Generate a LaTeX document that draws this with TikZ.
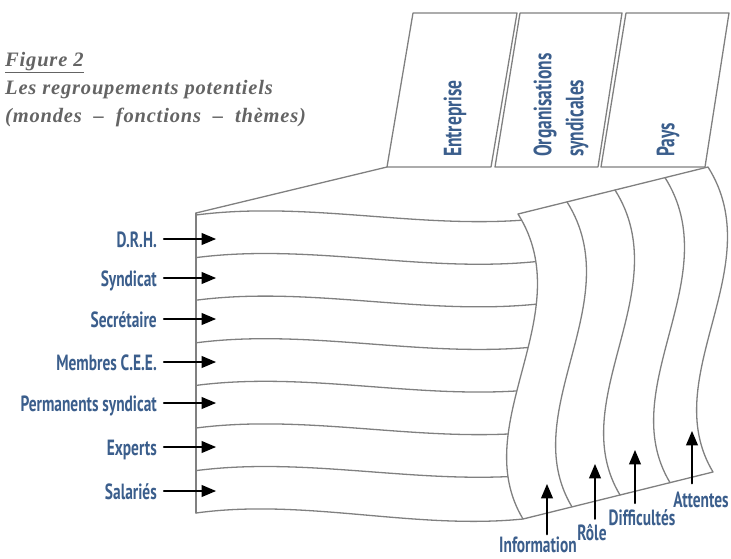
\documentclass[tikz,border=0pt]{standalone}
\usepackage{fontspec}
\newfontfamily\etiq[FakeStretch=0.7]{PT Sans Bold}
\newfontfamily\titrefont[LetterSpace=4]{Liberation Serif}
\usetikzlibrary{arrows}
\usetikzlibrary{positioning}
\definecolor{bleuetiq}{RGB}{59,94,140}
\definecolor{grisbord}{RGB}{128,128,128}
\definecolor{gristitre}{RGB}{100,100,100}

\begin{document}
\begin{tikzpicture}[line cap=round,line join=round,>=triangle 45,x=1pt,y=-1pt,
  bord/.style={draw=grisbord,line width=1.3pt},
  fleche/.style={->,line width=2.4pt,black},
  etiquette/.style={font=\etiq\fontsize{22}{24}\selectfont,text=bleuetiq,inner sep=0pt},
  volet/.style={font=\etiq\fontsize{25}{32}\selectfont,text=bleuetiq,inner sep=0pt,rotate=90,align=left,anchor=west}]
\useasboundingbox (0,0) rectangle (731,558);
% titre
\node [anchor=north west,align=left,text=gristitre,inner sep=0pt,
  font=\titrefont\bfseries\itshape\fontsize{20.5}{28}\selectfont] (titre) at (5,52)
  {\underline{Figure 2}\\Les regroupements potentiels\\(mondes \ \textendash\ \ fonctions \ \textendash\ \ thèmes)};
% les trois volets
\draw [bord] (387,167) -- (413,13) -- (517,13) -- (491,167) -- cycle;
\draw [bord] (495,167) -- (520,13) -- (622,13) -- (598,167) -- cycle;
\draw [bord] (601,167) -- (626,13) -- (729,13) -- (705,167) -- cycle;
\node [volet] (entreprise) at (455,157) {Entreprise};
\node [volet] (organisations) at (561,157) {Organisations\\syndicales};
\node [volet] (pays) at (668,157) {Pays};
% bloc de gauche
\draw [bord] (196,213) -- (387,167);
\draw [bord] (196,213) -- (196,513);
\draw [bord] (196,215) .. controls (312,200) and (428,232) .. (545,218);
\draw [bord] (196,257.6) .. controls (312,242.6) and (428,274.6) .. (545,260.6);
\draw [bord] (196,300.2) .. controls (312,285.2) and (428,317.2) .. (545,303.2);
\draw [bord] (196,342.8) .. controls (312,327.8) and (428,359.8) .. (545,345.8);
\draw [bord] (196,385.4) .. controls (312,370.4) and (428,402.4) .. (545,388.4);
\draw [bord] (196,428) .. controls (312,413) and (428,445) .. (545,431);
\draw [bord] (196,470.6) .. controls (312,455.6) and (428,487.6) .. (545,473.6);
\draw [bord] (196,513) .. controls (305,498) and (414,530) .. (523,519);
% bloc de droite
\filldraw [bord,fill=white] (518,214) -- (708,167) .. controls (771,267) and (656,377) .. (713,472)
  -- (523,519) .. controls (466,424) and (581,314) .. (518,214) -- cycle;
\draw [bord] (567,201.9) .. controls (630,301.9) and (515,411.9) .. (572,506.9);
\draw [bord] (615,190) .. controls (678,290) and (563,400) .. (620,495);
\draw [bord] (665,177.6) .. controls (728,277.6) and (613,387.6) .. (670,482.6);
% fonctions
\node [etiquette,anchor=base east] (drh) at (157,247) {D.R.H.};
\node [etiquette,anchor=base east] (syndicat) at (157,286) {Syndicat};
\node [etiquette,anchor=base east] (secretaire) at (157,327) {Secrétaire};
\node [etiquette,anchor=base east] (membres) at (157,370) {Membres C.E.E.};
\node [etiquette,anchor=base east] (permanents) at (157,411) {Permanents syndicat};
\node [etiquette,anchor=base east] (experts) at (157,455) {Experts};
\node [etiquette,anchor=base east] (salaries) at (157,499) {Salariés};
\coordinate (p-drh) at (216,239);
\coordinate (p-syndicat) at (216,278);
\coordinate (p-secretaire) at (216,319);
\coordinate (p-membres) at (216,362);
\coordinate (p-permanents) at (216,403);
\coordinate (p-experts) at (216,447);
\coordinate (p-salaries) at (216,491);
\draw [fleche,shorten <=7pt] (drh.east |- p-drh) -- (p-drh);
\draw [fleche,shorten <=7pt] (syndicat.east |- p-syndicat) -- (p-syndicat);
\draw [fleche,shorten <=7pt] (secretaire.east |- p-secretaire) -- (p-secretaire);
\draw [fleche,shorten <=7pt] (membres.east |- p-membres) -- (p-membres);
\draw [fleche,shorten <=7pt] (permanents.east |- p-permanents) -- (p-permanents);
\draw [fleche,shorten <=7pt] (experts.east |- p-experts) -- (p-experts);
\draw [fleche,shorten <=7pt] (salaries.east |- p-salaries) -- (p-salaries);
% themes
\node [etiquette,anchor=base] (information) at (538,552) {Information};
\node [etiquette,anchor=base] (role) at (592,540) {Rôle};
\node [etiquette,anchor=base] (difficultes) at (642,525) {Difficultés};
\node [etiquette,anchor=base] (attentes) at (701,507) {Attentes};
\coordinate (p-information) at (547,484);
\coordinate (p-role) at (595,464);
\coordinate (p-difficultes) at (635,450);
\coordinate (p-attentes) at (692,431);
\draw [fleche,shorten <=2pt] (information.north -| p-information) -- (p-information);
\draw [fleche,shorten <=5pt] (role.north -| p-role) -- (p-role);
\draw [fleche,shorten <=6pt] (difficultes.north -| p-difficultes) -- (p-difficultes);
\draw [fleche,shorten <=8pt] (attentes.north -| p-attentes) -- (p-attentes);
\end{tikzpicture}
\end{document}
